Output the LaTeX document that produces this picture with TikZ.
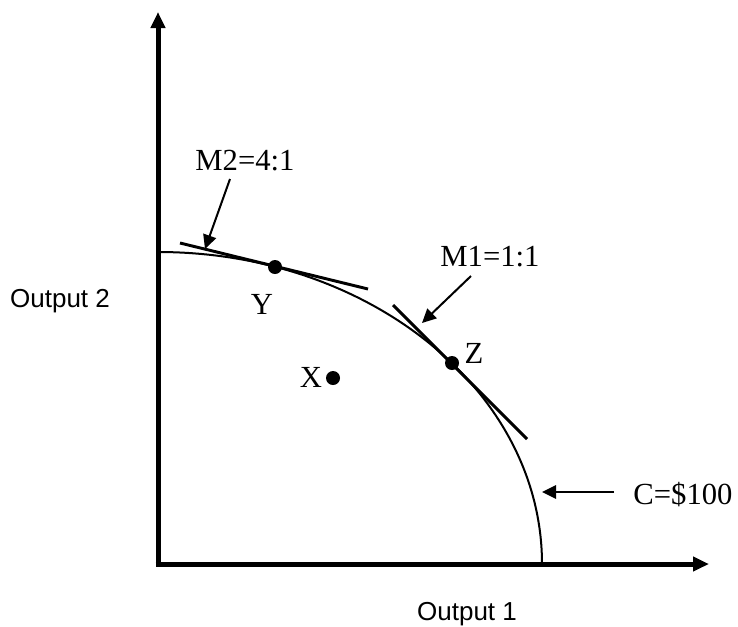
\documentclass[tikz,border=0pt]{standalone}
\usepackage{fontspec}
\setmainfont{Liberation Serif}
\setsansfont{Liberation Sans}
\usetikzlibrary{arrows.meta}
\tikzset{
  axis/.style={line width=3.75pt,-{Triangle[length=12pt,width=10.5pt]}},
  frontier/.style={line width=1.5pt},
  tangent/.style={line width=2.2pt},
  pointer/.style={line width=1.5pt,-{Triangle[length=10.5pt,width=10pt]}},
  dot/.style={circle,fill=black,inner sep=0pt,minimum size=10.5pt},
  lbl/.style={inner sep=0pt,font=\fontsize{23}{27}\selectfont},
  axlbl/.style={inner sep=0pt,font=\sffamily\fontsize{19.5}{23}\selectfont}
}
\begin{document}
\begin{tikzpicture}[x=0.75pt,y=-0.75pt]
\useasboundingbox (0,0) rectangle (738,626);
% axes
\coordinate (O) at (158,564);
\coordinate (ytip) at (158,12);
\coordinate (xtip) at (709,564);
\draw[axis] (158,566.5) -- (ytip);
\draw[axis] (155.5,564) -- (xtip);
% frontier
\coordinate (fstart) at (158,252);
\draw[frontier] (fstart) arc[start angle=-90,end angle=0,x radius=384,y radius=312] coordinate (fend);
% points
\node[dot] (Y) at (275,267) {};
\node[dot] (Z) at (452,363) {};
\node[dot] (X) at (333,378) {};
% tangents
\coordinate (ya) at (180,243);
\coordinate (yb) at (368,289);
\draw[tangent] (ya) -- (yb);
\coordinate (za) at (393,305);
\coordinate (zb) at (527,439);
\draw[tangent] (za) -- (zb);
% labels
\node[lbl] (ylab) at (262,304) {Y};
\node[lbl] (zlab) at (474,353) {Z};
\node[lbl] (xlab) at (311,377) {X};
\node[lbl] (m2) at (245,161) {M2=4:1};
\node[lbl] (m1) at (490,257) {M1=1:1};
\node[lbl] (c) at (683,495) {C=\$100};
\node[axlbl] (o2) at (60,301) {Output 2};
\node[axlbl] (o1) at (467,614) {Output 1};
% pointers
\coordinate (m2s) at (230,179);
\coordinate (m2t) at (205,249);
\draw[pointer] (m2s) -- (m2t);
\coordinate (m1s) at (471,276);
\coordinate (m1t) at (422,323);
\draw[pointer] (m1s) -- (m1t);
\coordinate (cs) at (614,492);
\coordinate (ct) at (542,492);
\draw[pointer] (cs) -- (ct);
\end{tikzpicture}
\end{document}
